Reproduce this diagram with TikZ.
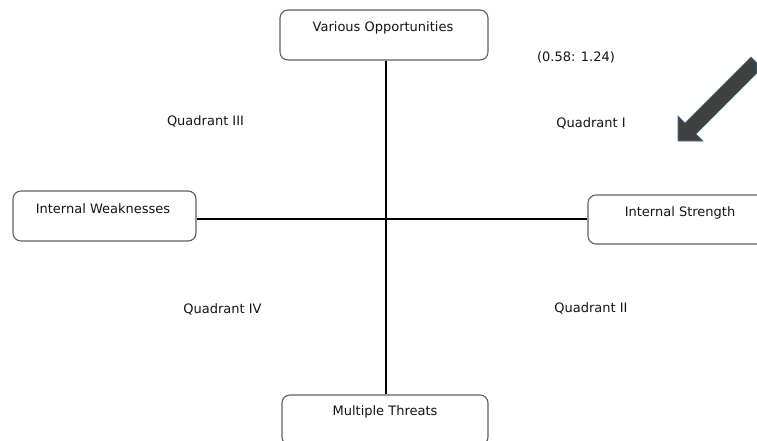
\documentclass[tikz,border=0pt]{standalone}
\usepackage{fontspec}
\setmainfont{DejaVu Sans}
\definecolor{boxline}{RGB}{95,95,95}
\definecolor{txtcol}{RGB}{20,20,20}
\definecolor{arrowfill}{RGB}{64,64,64}
\definecolor{arrowedge}{RGB}{65,113,156}
\tikzset{
  box/.style={draw=boxline, line width=1.1pt, rounded corners=8pt, fill=white},
  lbl/.style={text=txtcol, font=\fontsize{13}{15}\selectfont, inner sep=0pt},
  axis/.style={draw=black, line width=2pt}
}
\begin{document}
\begin{tikzpicture}[x=1pt,y=1pt,yscale=-1]
\useasboundingbox (0,0) rectangle (757,441);

%Straight Lines [id:axes]
\coordinate (origin) at (386,219);

%Shape: Rounded Rect [id:opportunities]
\node[box, minimum width=208, minimum height=50] (opp) at (384,35) {};
%Shape: Rounded Rect [id:weaknesses]
\node[box, minimum width=183, minimum height=50] (weak) at (104.5,216) {};
%Shape: Rounded Rect [id:strength]
\node[box, minimum width=184, minimum height=49] (strength) at (680,219.5) {};
%Shape: Rounded Rect [id:threats]
\node[box, minimum width=206, minimum height=50] (threats) at (385,420) {};

%Straight Lines
\draw[axis] (opp.south -| origin) -- (threats.north -| origin) ;
\draw[axis] (weak.east |- origin) -- (strength.west |- origin) ;

%Shape: Arrow [id:bigarrow]
\coordinate (tip) at (678,141);
\coordinate (barbA) at (678,116);
\coordinate (barbB) at (703,141);
\coordinate (neckA) at (685,123);
\coordinate (neckB) at (696,134);
\coordinate (tailA) at (751,57);
\coordinate (tailB) at (757,63);
\coordinate (tailC) at (757,73);
\filldraw[fill=arrowfill, draw=arrowedge, line width=0.6pt, line join=miter]
  (tip) -- (barbB) -- (neckB) -- (tailC) -- (tailB) -- (tailA) -- (neckA) -- (barbA) -- cycle ;

% Text Node
\node[lbl] (opptxt) at (383,28) {Various Opportunities};
% Text Node
\node[lbl] (weaktxt) at (103,209) {Internal Weaknesses};
% Text Node
\node[lbl] (strengthtxt) at (680,213) {Internal Strength};
% Text Node
\node[lbl] (threatstxt) at (385,412) {Multiple Threats};
% Text Node
\node[lbl] (score) at (576,57) {(0.58: 1.24)};
% Text Node
\node[lbl] (quadI) at (591,123) {Quadrant I};
% Text Node
\node[lbl] (quadII) at (591,308) {Quadrant II};
% Text Node
\node[lbl] (quadIII) at (205.5,121) {Quadrant III};
% Text Node
\node[lbl] (quadIV) at (222.5,309) {Quadrant IV};

\end{tikzpicture}
\end{document}
